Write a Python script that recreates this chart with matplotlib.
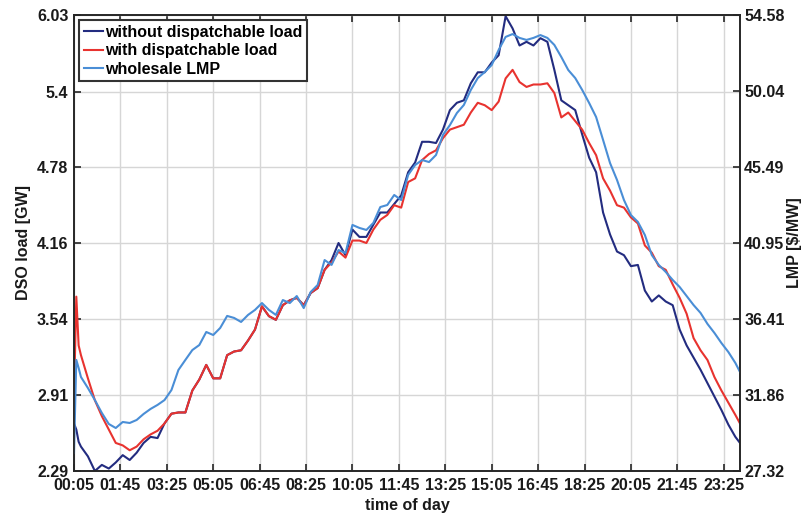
import matplotlib
matplotlib.use("Agg")
import matplotlib.pyplot as plt

plt.rcParams['font.family'] = ['Liberation Sans', 'DejaVu Sans']

# time of day in minutes after midnight (5-minute interval stamps)
minutes = [5, 10, 15] + list(range(20, 1431, 15)) + [1440]

# DSO load without dispatchable load [GW]
load_without = [
    2.68, 2.63, 2.53, 2.49, 2.41, 2.29, 2.34, 2.31, 2.36, 2.42,
    2.38, 2.44, 2.52, 2.57, 2.56, 2.68, 2.76, 2.77, 2.77, 2.95,
    3.04, 3.16, 3.05, 3.05, 3.24, 3.27, 3.28, 3.36, 3.45, 3.64,
    3.56, 3.53, 3.65, 3.69, 3.71, 3.65, 3.75, 3.79, 3.94, 4.02,
    4.16, 4.06, 4.27, 4.21, 4.21, 4.31, 4.41, 4.41, 4.48, 4.55,
    4.74, 4.82, 4.99, 4.99, 4.98, 5.09, 5.25, 5.31, 5.33, 5.47,
    5.56, 5.56, 5.64, 5.70, 6.02, 5.92, 5.78, 5.81, 5.78, 5.84,
    5.81, 5.58, 5.33, 5.29, 5.25, 5.05, 4.86, 4.74, 4.41, 4.23,
    4.09, 4.06, 3.97, 3.98, 3.77, 3.68, 3.73, 3.68, 3.65, 3.45,
    3.32, 3.22, 3.12, 3.01, 2.90, 2.79, 2.67, 2.57, 2.52,
]

# DSO load with dispatchable load [GW]
load_with = [
    2.89, 3.72, 3.32, 3.24, 3.05, 2.87, 2.74, 2.63, 2.52, 2.50,
    2.46, 2.49, 2.55, 2.59, 2.62, 2.68, 2.76, 2.77, 2.77, 2.95,
    3.04, 3.16, 3.05, 3.05, 3.24, 3.27, 3.28, 3.36, 3.45, 3.64,
    3.56, 3.53, 3.65, 3.69, 3.71, 3.65, 3.75, 3.79, 3.94, 4.00,
    4.09, 4.04, 4.18, 4.18, 4.16, 4.27, 4.35, 4.39, 4.47, 4.45,
    4.66, 4.69, 4.84, 4.89, 4.92, 5.02, 5.09, 5.11, 5.13, 5.23,
    5.31, 5.29, 5.25, 5.32, 5.51, 5.58, 5.48, 5.44, 5.46, 5.46,
    5.47, 5.39, 5.19, 5.23, 5.16, 5.09, 4.98, 4.88, 4.69, 4.59,
    4.47, 4.45, 4.37, 4.32, 4.14, 4.08, 3.97, 3.94, 3.82, 3.71,
    3.58, 3.38, 3.28, 3.20, 3.06, 2.95, 2.85, 2.75, 2.68,
]

# wholesale locational marginal price [$/MW]
lmp = [
    28.40, 33.96, 33.48, 32.94, 32.28, 31.56, 30.79, 30.13, 29.89, 30.25,
    30.19, 30.37, 30.73, 31.03, 31.27, 31.56, 32.16, 33.36, 33.96, 34.55,
    34.85, 35.63, 35.45, 35.87, 36.59, 36.47, 36.23, 36.65, 36.95, 37.36,
    36.95, 36.65, 37.54, 37.36, 37.78, 37.06, 38.02, 38.44, 39.93, 39.64,
    40.53, 40.35, 42.03, 41.85, 41.73, 42.15, 43.10, 43.22, 43.82, 43.52,
    45.02, 45.61, 45.91, 45.79, 46.21, 47.41, 48.00, 48.72, 49.20, 50.10,
    50.81, 51.17, 51.59, 52.49, 53.27, 53.44, 53.21, 53.09, 53.21, 53.38,
    53.21, 52.79, 52.07, 51.29, 50.81, 50.10, 49.32, 48.48, 47.11, 45.73,
    44.72, 43.52, 42.62, 42.21, 41.43, 40.23, 39.64, 39.22, 38.74, 38.32,
    37.78, 37.24, 36.77, 36.11, 35.57, 34.97, 34.43, 33.78, 33.24,
]

load_ticks = [2.29, 2.91, 3.54, 4.16, 4.78, 5.4, 6.03]
load_tick_labels = ['2.29', '2.91', '3.54', '4.16', '4.78', '5.4', '6.03']
lmp_ticks = [27.32, 31.86, 36.41, 40.95, 45.49, 50.04, 54.58]
lmp_tick_labels = ['27.32', '31.86', '36.41', '40.95', '45.49', '50.04', '54.58']
time_ticks = list(range(5, 1406, 100))
time_tick_labels = ['%02d:%02d' % (t // 60, t % 60) for t in time_ticks]

NAVY = '#232c80'
RED = '#e8332f'
LIGHTBLUE = '#4a8ed6'
SPINE = '#262626'
TEXT = '#1a1a1a'
FS = 11.5

fig = plt.figure(figsize=(8.06, 5.19), dpi=100)
ax = fig.add_axes([0.0918, 0.0925, 0.8263, 0.8786])
ax2 = ax.twinx()

l1, = ax.plot(minutes, load_without, color=NAVY, lw=1.5,
              label='without dispatchable load')
l2, = ax.plot(minutes, load_with, color=RED, lw=1.5,
              label='with dispatchable load')
l3, = ax2.plot(minutes, lmp, color=LIGHTBLUE, lw=1.5, label='wholesale LMP')

ax.set_xlim(5, 1440)
ax.set_ylim(2.29, 6.03)
ax2.set_ylim(27.32, 54.58)

ax.set_xticks(time_ticks)
ax.set_xticklabels(time_tick_labels)
ax.set_yticks(load_ticks)
ax.set_yticklabels(load_tick_labels)
ax2.set_yticks(lmp_ticks)
ax2.set_yticklabels(lmp_tick_labels)

ax.grid(True, color='#d6d6d6', linewidth=1.0)
ax.set_axisbelow(True)

for a in (ax, ax2):
    for s in a.spines.values():
        s.set_color(SPINE)
        s.set_linewidth(1.2)
    a.tick_params(direction='in', length=5, width=1.2, color=SPINE,
                  labelsize=FS, labelcolor=TEXT)
ax.tick_params(top=True, right=False)
ax.tick_params(axis='x', pad=5)
ax.tick_params(axis='y', pad=4)
ax2.tick_params(pad=3)
for lab in ax.get_xticklabels() + ax.get_yticklabels() + ax2.get_yticklabels():
    lab.set_fontweight('bold')

ax.set_xlabel('time of day', fontsize=FS, fontweight='bold', color=TEXT,
              labelpad=4)
ax.set_ylabel('DSO load [GW]', fontsize=FS, fontweight='bold', color=TEXT,
              labelpad=4)
ax2.set_ylabel(r'LMP [\$/MW]', fontsize=FS, fontweight='bold', color=TEXT,
               labelpad=2)

leg = ax2.legend(handles=[l1, l2, l3], loc='upper left',
                 bbox_to_anchor=(0.0, 1.0), borderaxespad=0.3,
                 fancybox=False, framealpha=1.0, edgecolor='#333333',
                 handlelength=1.2, handletextpad=0.12, labelspacing=0.22,
                 borderpad=0.3, prop={'size': FS, 'weight': 'bold'})
leg.get_frame().set_linewidth(1.5)

fig.savefig('out.png', dpi=100)
